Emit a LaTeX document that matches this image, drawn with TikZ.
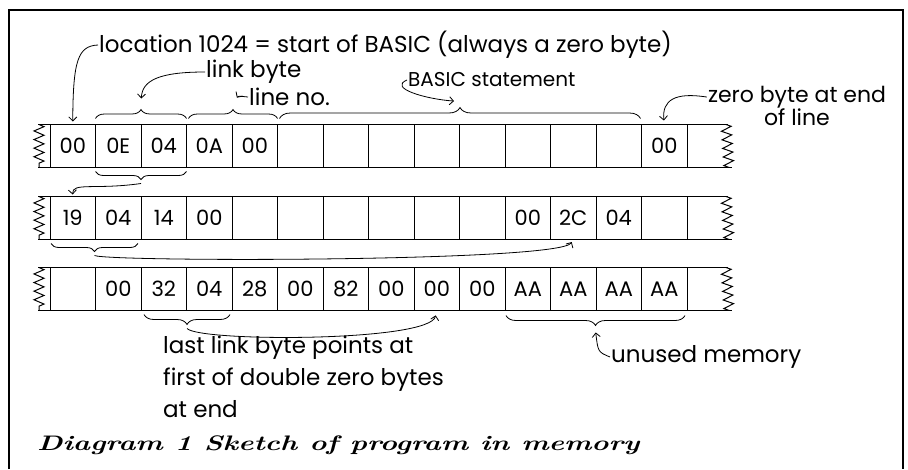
\documentclass[tikz,border=0pt]{standalone}
\usepackage{fontspec}
\newfontfamily\handfont{Poppins}
\usetikzlibrary{arrows.meta,positioning,calc,decorations.pathreplacing,decorations.pathmorphing}

\begin{document}
\begin{tikzpicture}[
  x=1pt, y=-1pt,
  cell/.style={draw, line width=1pt, minimum width=45.5pt, minimum height=43pt, inner sep=0pt, outer sep=0pt, font=\handfont\fontsize{21}{21}\selectfont},
  note/.style={font=\handfont\fontsize{23}{32}\selectfont, inner sep=1pt},
  caption/.style={font=\rmfamily\itshape\bfseries\fontsize{21}{21}\selectfont, inner sep=0pt},
  arrow/.style={-{Straight Barb[length=4pt,width=8pt]}, line width=0.8pt},
  brace/.style={decorate, decoration={brace, amplitude=#1}, line width=0.8pt},
  brace/.default=9pt,
  lowbrace/.style={decorate, decoration={brace, mirror, amplitude=#1}, line width=0.8pt},
  lowbrace/.default=8pt,
  tear/.style={decorate, decoration={zigzag, segment length=8.6pt, amplitude=5pt}, line width=1pt}
]
\useasboundingbox (0,0) rectangle (908,469);
% frame
\draw[line width=1.4pt] (9,469) -- (9,10) -- (903,10) -- (903,469);

% memory rows
\foreach \r/\y/\vals in {1/146/{00,0E,04,0A,00,,,,,,,,,00},
                          2/218/{19,04,14,00,,,,,,,00,2C,04,},
                          3/289/{,00,32,04,28,00,82,00,00,00,AA,AA,AA,AA}} {
  \draw[line width=1pt] (38,\y-21.5) -- (728,\y-21.5);
  \draw[line width=1pt] (38,\y+21.5) -- (732,\y+21.5);
  \draw[tear] (39,\y-21.5) -- (39,\y+21.5);
  \draw[tear] (726,\y-21.5) -- (729,\y+21.5);
  \foreach \v [count=\i] in \vals
    \node[cell] (c\r-\i) at ({50+45.5*(\i-0.5)},\y) {\v};
}

% labels
\node[note, anchor=west] (start) at (98,45) {location 1024 = start of BASIC (always a zero byte)};
\node[note, anchor=west] (link) at (205,72) {link byte};
\node[note, anchor=west] (lineno) at (248,97) {line no.};
\node[note, anchor=west, font=\handfont\fontsize{20}{20}\selectfont] (stmt) at (407,80) {BASIC statement};
\node[note, align=center, font=\handfont\fontsize{22}{23}\selectfont] (zero) at (797,106) {zero byte at end\\of line};
\node[note, align=left, anchor=north west] (last) at (162,335) {last link byte points at\\first of double zero bytes\\at end};
\node[note, anchor=west] (unused) at (610,357) {unused memory};
\node[caption, anchor=west] (cap) at (37,445) {\scalebox{1.38}[1]{Diagram 1 Sketch of program in memory}};

% braces
\draw[brace] ([yshift=6pt]c1-2.north west) -- ([yshift=6pt]c1-3.north east) coordinate[midway, yshift=15pt] (t1);
\draw[brace] ([xshift=2pt, yshift=6pt]c1-4.north west) -- ([yshift=6pt]c1-5.north east) coordinate[midway, yshift=15pt] (t2);
\draw[brace=11pt] ([xshift=2pt, yshift=6pt]c1-6.north west) -- ([xshift=-1pt, yshift=6pt]c1-13.north east) coordinate[midway, yshift=17pt] (t3);
\draw[lowbrace] ([yshift=-4pt]c1-2.south west) -- ([yshift=-4pt]c1-3.south east) coordinate[midway, yshift=-12pt] (t4);
\draw[lowbrace] ([xshift=1pt, yshift=-4pt]c2-1.south west) -- ([xshift=-3pt, yshift=-4pt]c2-2.south east) coordinate[midway, yshift=-12pt] (t5);
\draw[lowbrace=10pt] ([xshift=3pt, yshift=-4pt]c3-3.south west) -- ([xshift=-2pt, yshift=-4pt]c3-4.south east) coordinate[midway, yshift=-14pt] (t6);
\draw[lowbrace=10pt] ([xshift=1pt, yshift=-5pt]c3-11.south west) -- ([xshift=-2pt, yshift=-5pt]c3-14.south east) coordinate[midway, yshift=-15pt] (t7);

% arrows
\draw[arrow, shorten >=3pt] (start.west) .. controls (78,46) and (73,60) .. (c1-1.north);
\draw[arrow, shorten >=10pt] (link.west) .. controls (160,72) and (142,80) .. ([yshift=-5pt]t1);
\draw[arrow, shorten >=7pt] (lineno.west) .. controls (238,96) .. (t2);
\draw[arrow, shorten >=6pt] (stmt.west) .. controls (388,88) and (425,99) .. (t3);
\draw[arrow, shorten >=4pt] ($(zero.north west)+(0,12)$) .. controls (675,92) and (662,100) .. (c1-14.north);
\draw[arrow, shorten >=2pt] (t4) .. controls (95,190) and (72,182) .. (c2-1.north);
\draw[arrow, shorten >=3pt] (t5) .. controls (110,262) and (560,262) .. (c2-12.south);
\draw[arrow, shorten >=5pt] (t6) .. controls (200,342) and (430,342) .. (c3-9.south);
\draw[arrow, shorten >=2pt] (unused.west) .. controls (598,352) .. (t7);
\end{tikzpicture}
\end{document}
